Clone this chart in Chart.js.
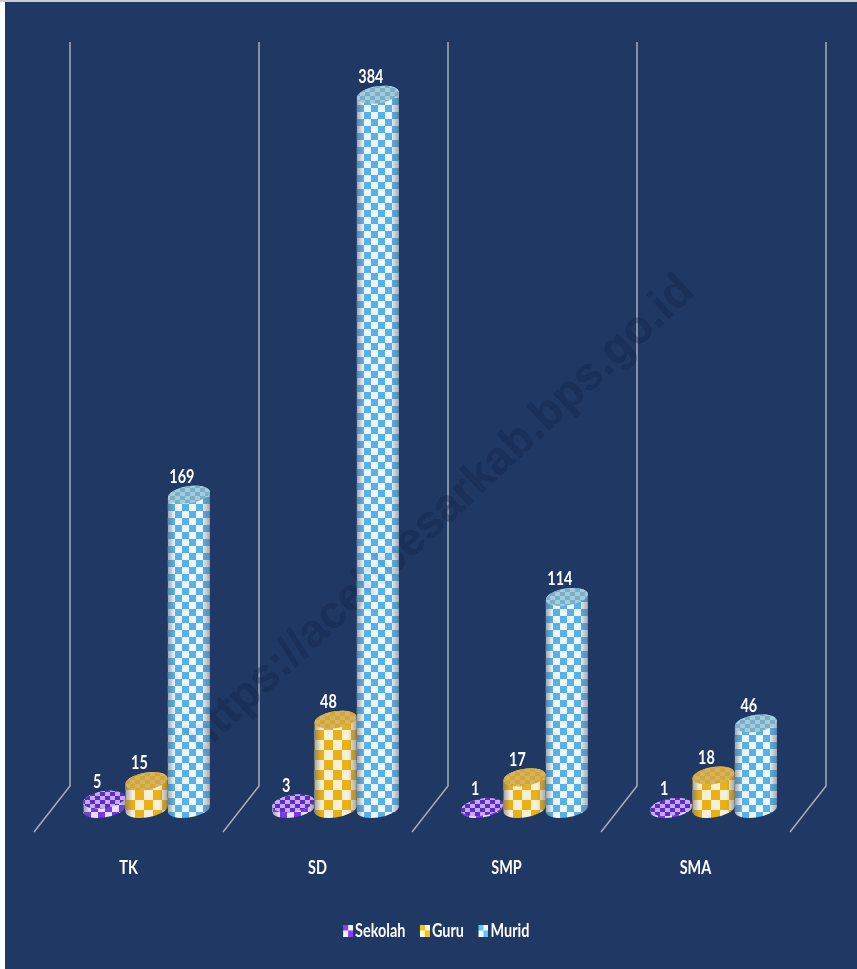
<!DOCTYPE html>
<html>
<head>
<meta charset="utf-8">
<style>
  html, body { margin: 0; padding: 0; background: #fff; }
  canvas { display: block; }
</style>
<script src="https://cdn.jsdelivr.net/npm/chart.js@4"></script>
</head>
<body>
<canvas id="schoolChart" width="857" height="969"></canvas>
<script>
const categories = ['TK', 'SD', 'SMP', 'SMA'];
const seriesNames = ['Sekolah', 'Guru', 'Murid'];
const sekolah = [5, 3, 1, 1];
const guru = [15, 48, 17, 18];
const murid = [169, 384, 114, 46];

const NAVY = '#1F3864';
const FONT = 'Lato, sans-serif';
const SQUEEZE = 0.76;
const DEPTH_X = 18, DEPTH_Y = 23;

function checker(w, h, a, b) {
  const c = document.createElement('canvas');
  c.width = w * 2; c.height = h * 2;
  const g = c.getContext('2d');
  g.fillStyle = b; g.fillRect(0, 0, w * 2, h * 2);
  g.fillStyle = a; g.fillRect(0, 0, w, h); g.fillRect(w, h, w, h);
  return c;
}

// 16 wide with the swatch on the right, so it sits close to its label
function legendIcon(a, b) {
  const c = document.createElement('canvas');
  c.width = 16; c.height = 12;
  const g = c.getContext('2d');
  g.fillStyle = b; g.fillRect(6, 0, 10, 12);
  g.fillStyle = a; g.fillRect(6, 0, 5, 6); g.fillRect(11, 6, 5, 6);
  return c;
}

const ctx0 = document.getElementById('schoolChart').getContext('2d');

// no condensed font is installed, so all chart text gets squeezed sideways
const rawFillText = ctx0.fillText.bind(ctx0);
const rawMeasure = ctx0.measureText.bind(ctx0);
ctx0.fillText = (text, x, y) => {
  ctx0.save();
  ctx0.translate(x, y);
  ctx0.scale(SQUEEZE, 1);
  rawFillText(text, 0, 0);
  ctx0.restore();
};
ctx0.measureText = text => ({ width: rawMeasure(text).width * SQUEEZE });

const styles = [
  { body: ctx0.createPattern(checker(7, 7, '#7A35F0', '#EFE6FA'), 'repeat'),
    cap: ctx0.createPattern(checker(5, 4, '#5A2CC8', '#C9A8EE'), 'repeat'), icon: legendIcon('#8A3FFC', '#F4EEFF') },
  { body: ctx0.createPattern(checker(9, 10, '#F2B50F', '#FFF6DC'), 'repeat'),
    cap: ctx0.createPattern(checker(5, 4, '#D8A822', '#CFB274'), 'repeat'), icon: legendIcon('#FFC000', '#FFF8E0') },
  { body: ctx0.createPattern(checker(7, 7, '#55B6F0', '#F8FCFF'), 'repeat'),
    cap: ctx0.createPattern(checker(5, 4, '#78AFCB', '#A6CBD8'), 'repeat'), icon: legendIcon('#5FC3FF', '#F2FAFF') },
];

function drawWatermark(g, alpha) {
  g.save();
  g.translate(440, 515);
  g.rotate(-43 * Math.PI / 180);
  g.font = 'bold 46px "Liberation Sans", sans-serif';
  g.textAlign = 'center';
  g.textBaseline = 'middle';
  g.fillStyle = `rgba(20,35,70,${alpha})`;
  rawFillText('https://acehbesarkab.bps.go.id', 0, 0);
  g.restore();
}

function drawCylinder(g, bar, style) {
  const rx = bar.width / 2, ry = 8.5, rot = -9 * Math.PI / 180;
  const t0 = Math.atan2(-ry * Math.sin(rot), rx * Math.cos(rot));
  const left = bar.x - rx, right = bar.x + rx;
  g.save();
  g.filter = 'blur(0.5px)';
  g.beginPath();
  g.ellipse(bar.x, bar.base, rx, ry, rot, t0, t0 + Math.PI, false);
  g.ellipse(bar.x, bar.y, rx, ry, rot, t0 + Math.PI, t0 + 2 * Math.PI, false);
  g.closePath();
  g.fillStyle = style.body;
  g.fill();
  // round shading at both edges
  const shade = g.createLinearGradient(left, 0, right, 0);
  shade.addColorStop(0, 'rgba(95,105,115,0.6)');
  shade.addColorStop(0.16, 'rgba(95,105,115,0.06)');
  shade.addColorStop(0.8, 'rgba(95,105,115,0.04)');
  shade.addColorStop(1, 'rgba(95,105,115,0.55)');
  g.fillStyle = shade;
  g.fill();
  g.beginPath();
  g.ellipse(bar.x, bar.y, rx, ry, rot, 0, 2 * Math.PI);
  g.fillStyle = style.cap;
  g.fill();
  g.restore();
}

const backdrop = {
  id: 'backdrop',
  afterLayout(chart) {
    chart.legend.left += 7;
    chart.legend.right += 7;
  },
  beforeDraw(chart) {
    const g = chart.ctx;
    g.save();
    g.fillStyle = NAVY;
    g.fillRect(5, 2, chart.width - 5, chart.height - 2);
    g.fillStyle = '#C9CCD1';
    g.fillRect(0, 0, chart.width, 2);
    g.restore();
  },
  beforeDatasetsDraw(chart) {
    // walls: one line per category edge, set back by the chart depth
    const { ctx: g, chartArea: area, scales: { x } } = chart;
    const step = x.width / categories.length;
    g.save();
    g.strokeStyle = '#A9ADB5';
    g.lineWidth = 1.5;
    for (let i = 0; i <= categories.length; i++) {
      const px = x.left + i * step;
      g.beginPath();
      g.moveTo(px + DEPTH_X, area.top - DEPTH_Y);
      g.lineTo(px + DEPTH_X, area.bottom - DEPTH_Y);
      g.lineTo(px - DEPTH_X, area.bottom + DEPTH_Y);
      g.stroke();
    }
    g.restore();
    drawWatermark(g, 0.3);
  },
};

const cylinders = {
  id: 'cylinders',
  afterDatasetsDraw(chart) {
    const g = chart.ctx;
    chart.data.datasets.forEach((ds, i) => {
      chart.getDatasetMeta(i).data.forEach(bar => {
        drawCylinder(g, bar.getProps(['x', 'y', 'base', 'width'], true), styles[i]);
      });
    });
    g.save();
    g.fillStyle = '#fff';
    g.font = 'bold 19px ' + FONT;
    g.textAlign = 'center';
    g.textBaseline = 'middle';
    chart.data.datasets.forEach((ds, i) => {
      chart.getDatasetMeta(i).data.forEach((bar, j) => {
        g.fillText(ds.data[j], bar.x - 7, bar.y - 18);
      });
    });
    g.restore();
    // faint second pass so the watermark just shows on the bars
    drawWatermark(g, 0.07);
  },
};

new Chart(ctx0, {
  type: 'bar',
  data: {
    labels: categories,
    datasets: [
      { label: seriesNames[0], data: sekolah, backgroundColor: 'transparent', pointStyle: styles[0].icon },
      { label: seriesNames[1], data: guru, backgroundColor: 'transparent', pointStyle: styles[1].icon },
      { label: seriesNames[2], data: murid, backgroundColor: 'transparent', pointStyle: styles[2].icon },
    ],
  },
  options: {
    responsive: false,
    animation: false,
    layout: { padding: { left: 52, right: 49, top: 65, bottom: 19 } },
    datasets: { bar: { categoryPercentage: 0.672, barPercentage: 1 } },
    scales: {
      x: {
        grid: { display: false },
        border: { display: false },
        afterFit(scale) { scale.height = 96; },
        ticks: { color: '#fff', padding: 39, labelOffset: -18, maxRotation: 0, font: { family: FONT, size: 19, weight: 'bold' } },
      },
      y: { display: false, min: 0, max: 400 },
    },
    plugins: {
      tooltip: { enabled: false },
      legend: {
        position: 'bottom',
        labels: {
          color: '#fff',
          usePointStyle: true,
          boxWidth: 1,
          padding: 16,
          font: { family: FONT, size: 19, weight: 'bold' },
        },
      },
    },
  },
  plugins: [backdrop, cylinders],
});
</script>
</body>
</html>
